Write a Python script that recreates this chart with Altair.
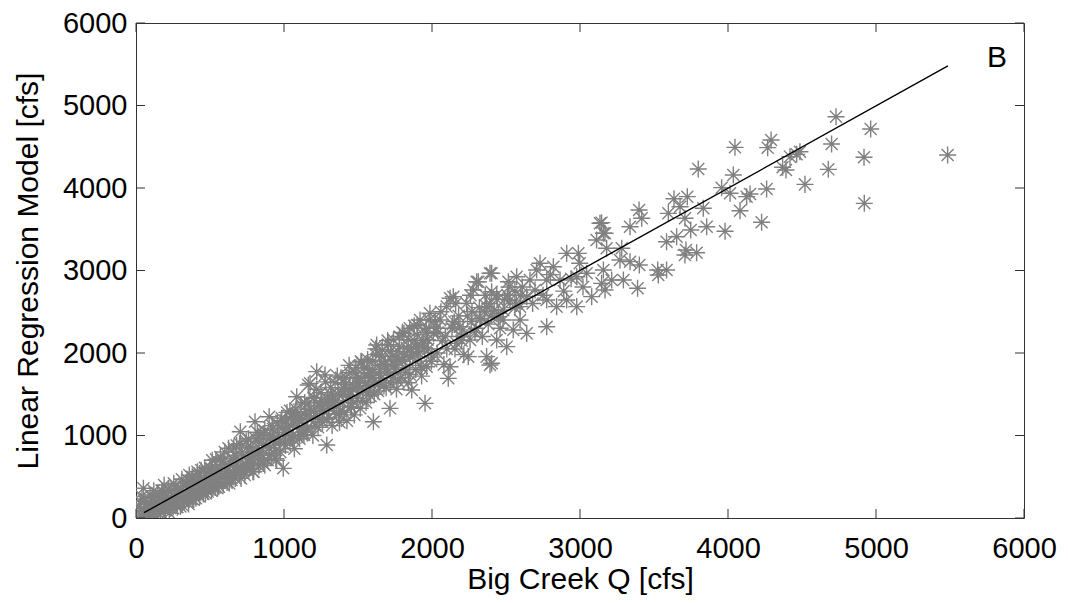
import altair as alt
import pandas as pd

# ---- data (cfs) ----
low_x = [25,35,45,50,55,65,75,85,95,105,115,120,130,135,145,150,160,165,175,185,
         190,195,205,215,225,235,240,250,255,265,275,285,290,300,310,320,325,335,345,355,
         360,370,380,390,395,405,415,420,430,440,450,455,465,475,485,490,500,510,515,525,
         535,545,550,560,570,580,590,600,610,615,625,635,645,655,660,670,680,690,700,705,
         715,725,735,745,755,765,775,785,795,804,810,820,830,840,850,860,870,880,890,900,
         905,915,925,935,945,955,965,975,985,995]
low_y = [40,120,15,360,210,80,170,30,280,130,60,240,190,20,300,110,230,70,330,150,
         400,90,260,180,60,320,210,120,420,270,160,350,230,140,470,300,200,390,250,170,
         520,330,230,440,300,240,560,380,260,490,340,290,610,420,320,540,400,330,700,470,
         370,600,440,380,740,520,410,650,480,430,845,560,460,720,540,480,880,620,530,1046,
         790,580,520,930,680,600,860,720,560,1167,960,760,630,1000,820,660,1060,880,700,1228,
         960,780,1080,880,720,1150,990,800,1210,602]

core_x = [60,100,140,180,210,250,280,320,350,390,430,470,500,540,570,610,640,680,720,760,
          790,830,860,900,930,970]
core_y = [90,70,170,150,230,200,300,290,380,350,450,420,510,500,600,570,660,640,740,720,
          800,790,880,850,950,930]

fill_x = [30,70,110,150,190,230,270,310,350,390,430,470,510,550,590,630,670,710,750,790,
          830,870,910,950,990]
fill_y = [200,20,250,60,300,120,380,160,460,220,540,300,600,360,690,420,760,480,850,560,
          920,640,1000,700,1090]

fill5_x = [20,40,80,100,120,160,200,220,260,280,300,340,360,380,420,440,460,500,520,540,
           580,600,620,660,680,700,740,760,780,820,840,860,900,920,940,980,1000,1040,1060,1080,
           1120,1140,1160,1200]
fill5_y = [130,260,180,15,330,270,110,350,200,130,330,420,260,500,300,580,400,600,370,710,
           500,800,470,850,560,900,600,960,650,1040,700,1020,760,1120,820,1180,900,1300,960,1220,
           1010,1400,1100,1450]

mid_x = [1000,1010,1020,1030,1040,1050,1060,1070,1080,1086,1095,1105,1115,1125,1135,1145,1155,1164,1170,1176,
         1185,1195,1205,1215,1221,1230,1240,1250,1260,1270,1277,1289,1295,1305,1315,1325,1335,1345,1355,1365,
         1375,1385,1395,1405,1415,1425,1435,1445,1455,1465,1475,1485,1495,1505,1515,1525,1535,1545,1555,1565,
         1575,1585,1595,1604,1610,1620,1626,1635,1645,1655,1665,1675,1685,1695,1705,1716,1720,1730,1740,1750,
         1760,1770,1780,1790,1800,1810,1820,1830,1840,1850,1863,1870,1880,1890,1900,1910,1919,1930,1939,1953,
         1960,1964,1975,1986,1995]
mid_y = [1040,880,1280,1100,920,1230,1000,840,1320,1470,1120,960,1380,1190,1010,1290,1080,1612,1400,1632,
         1200,1000,1460,1270,1774,1100,1360,1520,1160,1300,1733,885,1440,1220,1580,1120,1380,1640,1260,1500,
         1160,1700,1400,1280,1620,1180,1480,1760,1340,1560,1250,1820,1450,1640,1330,1880,1540,1720,1400,1920,
         1600,1480,1800,1167,1660,1980,2097,1540,1850,1700,2040,1600,1900,1760,2100,1329,1640,1960,2160,1800,
         1560,2020,2200,1700,1900,2240,1760,2060,1640,2300,1552,1960,2150,1800,2340,2000,2400,1720,2121,1390,
         2250,1834,2050,2481,1900]

core2_x = [1020,1060,1100,1150,1200,1250,1300,1350,1400,1450,1500,1550,1600,1650,1700,1750,1800,1850,1900,1950]
core2_y = [1100,1150,1200,1240,1300,1330,1400,1420,1500,1530,1600,1640,1700,1730,1820,1850,1920,1950,2020,2060]

fill2_x = [1010,1045,1090,1130,1175,1210,1255,1290,1330,1370,1410,1450,1490,1530,1570,1610,1650,1690,1730,1770,
           1810,1850,1890,1930,1970]
fill2_y = [1180,980,1260,1040,1320,1120,1420,1200,1480,1260,1560,1350,1640,1420,1720,1500,1800,1580,1900,1660,
           1980,1740,2080,1820,2160]

fill3_x = [1420,1480,1540,1600,1660,1720,1780,1840,1900,1960]
fill3_y = [1700,1760,1820,1900,1960,2020,2080,2160,2220,2300]

fill6_x = [1220,1240,1280,1300,1320,1360,1380,1400,1440,1460,1500,1520,1560,1580,1620,1640,1680,1700,1740,1760,
           1800,1820,1860,1880,1920,1940,1980,2000,2040,2060,2100,2140,2160,2200,2240,2260,2300,2320,2360,2400,
           2440,2480,2520,2560,2600]
fill6_y = [1560,1200,1650,1330,1500,1720,1300,1580,1850,1420,1700,1900,1520,1760,2050,1620,1850,2150,1700,1950,
           2250,1820,2050,2330,1850,2150,2400,1950,2250,2500,2050,2350,2600,2150,2450,2700,2300,2550,2700,2450,
           2650,2400,2800,2550,2700]

high_x = [2009,2020,2035,2054,2070,2080,2099,2110,2122,2122,2135,2144,2155,2166,2180,2189,2200,2215,2234,2245,
          2257,2265,2279,2290,2302,2313,2324,2340,2355,2369,2369,2380,2392,2392,2403,2403,2403,2420,2437,2437,
          2448,2460,2481,2490,2505,2516,2527,2549,2560,2572,2595,2595,2610,2640,2640,2662,2680,2696,2707,2730,
          2750,2775,2775,2775,2800,2820,2842,2865,2890,2910,2910,2940,2978,2978,2989,2998,3020,3045,3079,3112,
          3146,3146,3169,3180,3214]
high_y = [2238,2380,2000,2400,2150,1860,2562,1693,1834,2663,2300,2683,2050,2117,2450,2319,2200,1980,2602,1956,
          2158,2380,2764,2250,2864,2864,2400,2200,2500,1956,2562,2350,1855,2966,1875,2743,2966,2520,2158,2703,
          2440,2300,2521,2650,2077,2864,2642,2279,2750,2925,2400,2562,2800,2238,2683,2885,2600,2764,3006,3087,
          2700,2319,2642,2885,2950,3046,2562,2885,2750,2642,3208,2900,2562,2925,3208,3087,2800,2966,2683,3370,
          2844,3580,3451,3269,2885]

fill4_x = [2030,2090,2150,2210,2270,2330,2390,2450,2510,2570]
fill4_y = [2300,2200,2380,2280,2500,2420,2600,2480,2700,2600]

peak_x = [3135,3158,3158,3169,3270,3282,3293,3338,3338,3389,3399,3401,3417,3525,3529,3585,3585,3597,3635,3653,
          3676,3709,3709,3716,3725,3748,3788,3799,3833,3856,3957,3980,4014,4036,4047,4081,4126,4149,4227,4261,
          4268,4291,4369,4392,4419,4464,4486,4520,4678,4700,4730,4919,4921,4964,5484]
peak_y = [3572,3451,3006,2764,3127,3269,2885,3107,3531,2784,3733,3067,3633,3006,2945,3006,3349,3693,3870,3410,
          3773,3188,3633,3248,3895,3491,3216,4230,3754,3531,4004,3475,3936,4158,4493,3725,3895,3927,3584,3988,
          4489,4582,4251,4218,4380,4408,4440,4044,4226,4533,4864,4372,3814,4715,4400]

fit_x = [54, 5486]
fit_y = [64, 5479]

tick_values = [0, 1000, 2000, 3000, 4000, 5000, 6000]

# ---- build tables ----
xs = (low_x + core_x + fill_x + fill5_x + mid_x + core2_x + fill2_x + fill3_x + fill6_x
      + high_x + fill4_x + peak_x)
ys = (low_y + core_y + fill_y + fill5_y + mid_y + core2_y + fill2_y + fill3_y + fill6_y
      + high_y + fill4_y + peak_y)
assert len(xs) == len(ys)
pts = pd.DataFrame({"q": xs, "model": ys})
fit = pd.DataFrame({"q": fit_x, "model": fit_y})
ticks = pd.DataFrame({"q": tick_values, "model": tick_values})

W, H = 888, 495
FONT = "Liberation Sans"
GRAY = "#808080"
FRAME = "#333333"
XTITLE = "Big Creek Q [cfs]"
YTITLE = "Linear Regression Model [cfs]"

xscale = alt.Scale(domain=[0, 6000], nice=False, zero=False)
yscale = alt.Scale(domain=[0, 6000], nice=False, zero=False)

xaxis = alt.Axis(values=tick_values, format="d", ticks=False, tickSize=0, domain=False, grid=False,
                 labelFont=FONT, labelFontSize=29, labelColor="#000", labelPadding=16,
                 labelFlush=False, labelOverlap=False,
                 titleFont=FONT, titleFontSize=30, titleFontWeight="normal", titleColor="#000",
                 titleX=W / 2, titleY=70, titleAlign="center", titleBaseline="alphabetic")
yaxis = alt.Axis(values=tick_values, format="d", ticks=False, tickSize=0, domain=False, grid=False,
                 labelFont=FONT, labelFontSize=29, labelColor="#000", labelPadding=9,
                 labelFlush=False, labelOverlap=False,
                 titleFont=FONT, titleFontSize=30, titleFontWeight="normal", titleColor="#000",
                 titleX=-99, titleY=H / 2, titleAngle=-90, titleAlign="center",
                 titleBaseline="alphabetic")

X = alt.X("q:Q", scale=xscale, title=XTITLE, axis=xaxis)
Y = alt.Y("model:Q", scale=yscale, title=YTITLE, axis=yaxis)

ASTERISK = "M0,-1L0,1M-1,0L1,0M-0.707,-0.707L0.707,0.707M-0.707,0.707L0.707,-0.707"

points = alt.Chart(pts).mark_point(
    shape=ASTERISK, filled=False, stroke=GRAY, strokeWidth=1.4, size=290, opacity=1, clip=True
).encode(x=X, y=Y)

line = alt.Chart(fit).mark_line(color="#000000", strokeWidth=1.4).encode(x=X, y=Y)

TL = 9
bottom_ticks = alt.Chart(ticks).mark_rule(color=FRAME, strokeWidth=1).encode(
    x=X, y=alt.value(H), y2=alt.value(H - TL))
top_ticks = alt.Chart(ticks).mark_rule(color=FRAME, strokeWidth=1).encode(
    x=X, y=alt.value(0), y2=alt.value(TL))
left_ticks = alt.Chart(ticks).mark_rule(color=FRAME, strokeWidth=1).encode(
    y=Y, x=alt.value(0), x2=alt.value(TL))
right_ticks = alt.Chart(ticks).mark_rule(color=FRAME, strokeWidth=1).encode(
    y=Y, x=alt.value(W), x2=alt.value(W - TL))

panel_label = alt.Chart(pd.DataFrame({"label": ["B"]})).mark_text(
    font=FONT, fontSize=30, color="#000", align="center", baseline="alphabetic"
).encode(x=alt.value(861), y=alt.value(44), text="label:N")

chart = alt.layer(
    points, line, bottom_ticks, top_ticks, left_ticks, right_ticks, panel_label
).properties(
    width=W, height=H,
    autosize=alt.AutoSizeParams(type="none"),
    padding={"left": 136, "top": 23, "right": 44, "bottom": 85},
    background="white",
).configure_view(stroke=FRAME, strokeWidth=1)

chart.save("out.html", embed_options={"renderer": "svg", "actions": False})
